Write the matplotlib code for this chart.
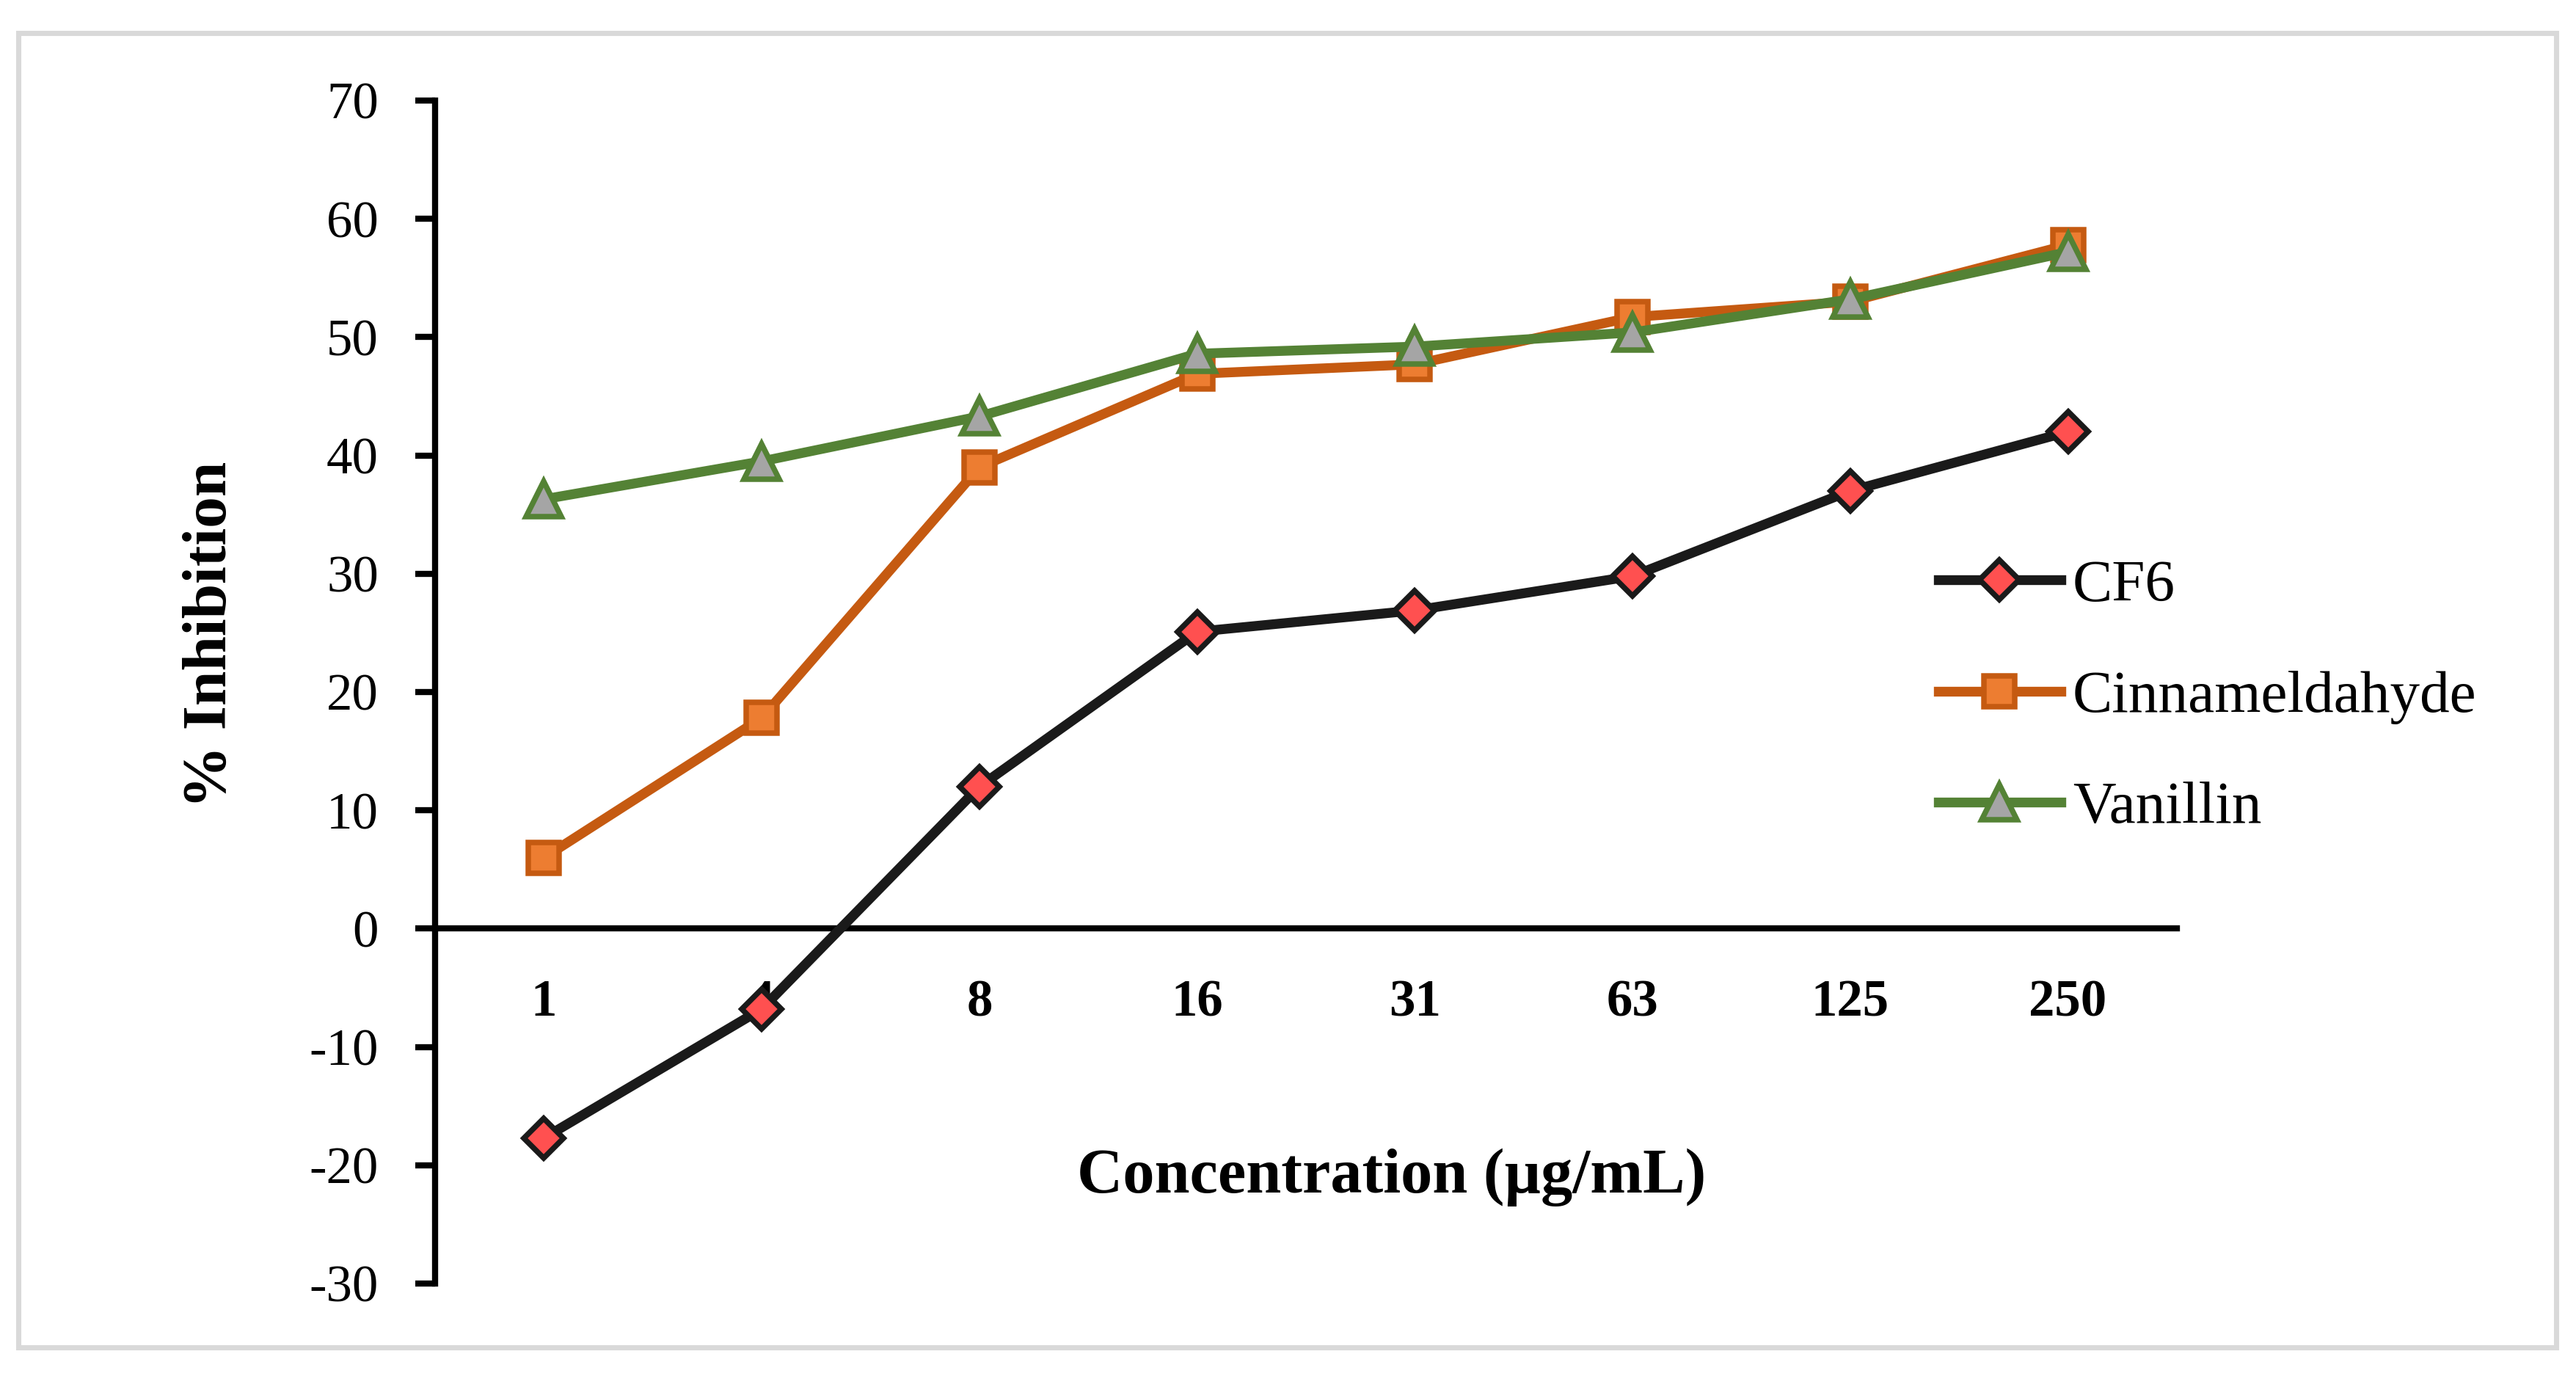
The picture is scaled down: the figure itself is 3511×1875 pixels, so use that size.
import matplotlib
matplotlib.use("Agg")
import matplotlib.pyplot as plt
from matplotlib.patches import Rectangle

categories = ["1", "4", "8", "16", "31", "63", "125", "250"]
cf6 = [-17.7, -6.8, 12.0, 25.1, 26.9, 29.8, 37.0, 42.0]
cinnamaldehyde = [6.0, 17.8, 39.0, 46.9, 47.7, 51.7, 53.0, 57.8]
vanillin = [36.3, 39.5, 43.3, 48.6, 49.2, 50.4, 53.2, 57.2]
series_names = ["CF6", "Cinnameldahyde", "Vanillin"]
yticks = list(range(-30, 80, 10))

plt.rcParams['font.family'] = ['Liberation Serif', 'DejaVu Serif']

W, H, DPI = 3511, 1875, 300
fig = plt.figure(figsize=(W / DPI, H / DPI), dpi=DPI)
fig.patch.set_facecolor("white")

# outer light-grey frame
fig.patches.append(Rectangle((24.5 / W, 1 - 1836 / H), (3484 - 24.5) / W, (1836 - 44.5) / H,
                             transform=fig.transFigure, fill=False,
                             edgecolor="#D9D9D9", linewidth=1.7, zorder=0))

ax = fig.add_axes([593 / W, 1 - 1749 / H, (2967 - 593) / W, (1749 - 137) / H])
x = list(range(len(categories)))

ax.plot(x, cf6, color="#1A1A1A", lw=3.2, marker="D", ms=9,
        mfc="#FF5050", mec="#1A1A1A", mew=1.8, label=series_names[0], zorder=5)
ax.plot(x, cinnamaldehyde, color="#C55A11", lw=3.2, marker="s", ms=10,
        mfc="#ED7D31", mec="#C55A11", mew=1.8, label=series_names[1], zorder=4)
ax.plot(x, vanillin, color="#548235", lw=3.2, marker="^", ms=11.5,
        mfc="#A5A5A5", mec="#548235", mew=1.8, label=series_names[2], zorder=4)

for s in ["top", "right"]:
    ax.spines[s].set_visible(False)
ax.spines["left"].set_linewidth(2.0)
ax.spines["bottom"].set_linewidth(2.0)
ax.spines["bottom"].set_position(("data", 0))

ax.set_xlim(-0.5, 7.5)
ax.set_ylim(-30, 70)
ax.set_yticks(yticks)
ax.set_yticklabels([str(v) for v in yticks], fontsize=17)
ax.set_xticks(x)
ax.set_xticklabels(categories, fontsize=17, fontweight="bold")

ax.tick_params(axis="y", direction="out", length=6.5, width=2.0, pad=12)
ax.tick_params(axis="x", length=0, pad=16.5)

fig.text(287 / W, 1 - 865 / H, "% Inhibition", rotation=90, fontsize=20.5,
         fontweight="bold", ha="center", va="center")
fig.text(1897 / W, 1 - 1604 / H, "Concentration (\u00b5g/mL)", fontsize=20.7,
         fontweight="bold", ha="center", va="center")

leg = ax.legend(loc="center left", bbox_to_anchor=(2642 / W, 1 - 950 / H),
                bbox_transform=fig.transFigure, frameon=False, fontsize=19.5,
                handlelength=2.05, handletextpad=0.2, labelspacing=0.95,
                borderpad=0, borderaxespad=0)

fig.savefig("out.png", dpi=DPI, facecolor="white")
